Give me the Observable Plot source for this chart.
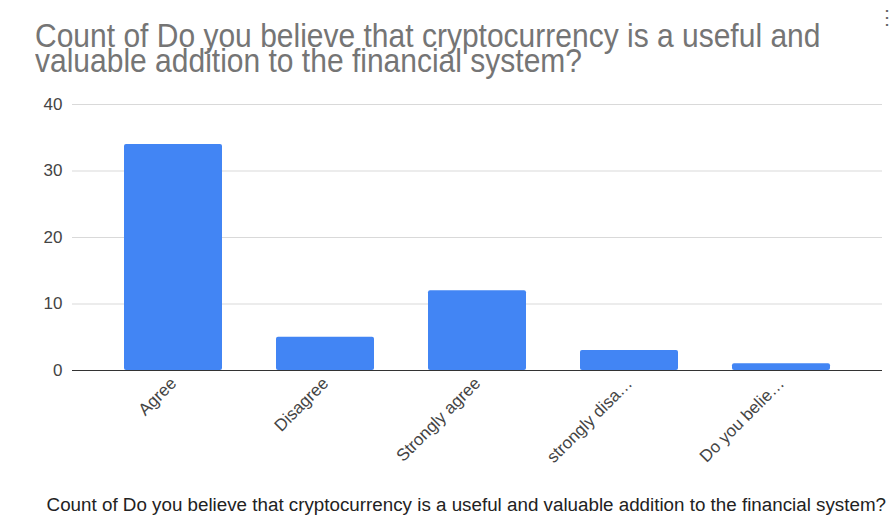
<!DOCTYPE html>
<html><head><meta charset="utf-8">
<script src="https://cdn.jsdelivr.net/npm/d3@7"></script>
<script src="https://cdn.jsdelivr.net/npm/@observablehq/plot@0.6"></script>
<style>
body{margin:0;background:#fff;width:891px;height:518px;position:relative;overflow:hidden;font-family:"Liberation Sans",Arial,sans-serif}
#title{position:absolute;left:35px;top:23px;font-size:30px;line-height:22.5px;color:#757575;white-space:nowrap;transform:scaleY(1.12);transform-origin:0 0}
#menu{position:absolute;left:877px;top:6px;width:14px;text-align:center;font-size:20px;line-height:22px;color:#666;overflow:visible}
#chart{position:absolute;left:0;top:90px}
#caption{position:absolute;left:0;top:491px;width:886px;text-align:right;font-size:18.8px;line-height:28px;color:#222;white-space:nowrap}
</style></head><body>
<div id="title">Count of Do you believe that cryptocurrency is a useful and<br>valuable addition to the financial system?</div>
<div id="menu">⋮</div>
<div id="chart"></div>
<div id="caption">Count of Do you believe that cryptocurrency is a useful and valuable addition to the financial system?</div>
<script>
const categories = ["Agree", "Disagree", "Strongly agree", "strongly disa…", "Do you belie…"];
const counts = [34, 5, 12, 3, 1];
const yTicks = [0, 10, 20, 30, 40];
const data = categories.map((c, i) => ({answer: c, count: counts[i]}));
const chart = Plot.plot({
  width: 891, height: 400,
  marginTop: 14, marginBottom: 120, marginLeft: 72, marginRight: 9,
  style: {fontFamily: "'Liberation Sans', Arial, sans-serif", fontSize: "17px", color: "#444", background: "transparent"},
  x: {domain: categories, paddingInner: 0.355, paddingOuter: 0.34, label: null},
  y: {domain: [0, 40], label: null},
  marks: [
    Plot.ruleY(yTicks.filter(d => d > 0), {stroke: "#d9d9d9"}),
    Plot.barY(data, {x: "answer", y: "count", fill: "#4285f4", rx: 2}),
    Plot.ruleY([0], {stroke: "#333", strokeWidth: 1.2}),
    Plot.axisY({ticks: yTicks, tickSize: 0, tickPadding: 10, label: null}),
    Plot.axisX({tickSize: 0, tickRotate: -45, tickPadding: 10, label: null, fontSize: "17px", fill: "#444"})
  ]
});
document.getElementById("chart").appendChild(chart);
</script>
</body></html>
